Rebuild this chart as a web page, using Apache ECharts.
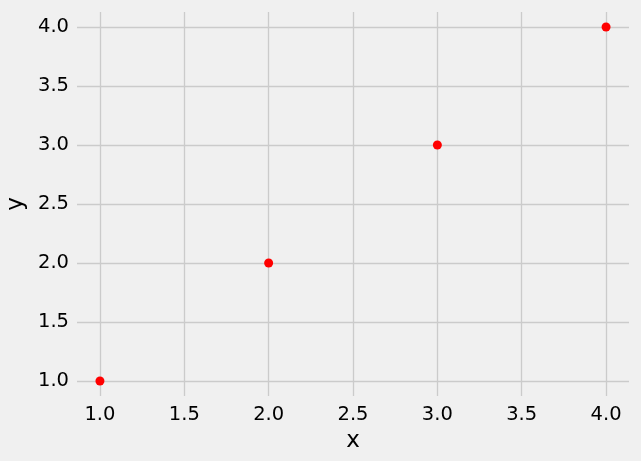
<!DOCTYPE html>
<html>
<head>
<meta charset="utf-8">
<script src="https://cdn.jsdelivr.net/npm/echarts@6/dist/echarts.min.js"></script>
<style>
html,body{margin:0;padding:0;background:#f0f0f0;}
#c{width:641px;height:461px;}
</style>
</head>
<body>
<div id="c"></div>
<script>
const xValues = [1, 2, 3, 4];
const yValues = [1, 2, 3, 4];
const xTicks = [1.0, 1.5, 2.0, 2.5, 3.0, 3.5, 4.0];
const yTicks = [1.0, 1.5, 2.0, 2.5, 3.0, 3.5, 4.0];

const chart = echarts.init(document.getElementById('c'), null, {renderer: 'canvas'});
const font = 'DejaVu Sans';
chart.setOption({
  backgroundColor: '#f0f0f0',
  animation: false,
  grid: {left: 77, right: 12, top: 12, bottom: 65, containLabel: false, outerBoundsMode: 'none'},
  xAxis: {
    type: 'value', min: 0.864, max: 4.136,
    name: 'x', nameLocation: 'middle', nameGap: 31,
    nameTextStyle: {fontFamily: font, fontSize: 23, color: '#000'},
    axisLine: {show: false},
    axisTick: {show: false, customValues: xTicks},
    axisLabel: {customValues: xTicks, fontFamily: font, fontSize: 19.5, color: '#000', margin: 9,
      formatter: v => Number(v).toFixed(1)},
    splitLine: {show: true, lineStyle: {color: '#cbcbcb', width: 1.3}}
  },
  yAxis: {
    type: 'value', min: 0.873, max: 4.127,
    name: 'y', nameLocation: 'middle', nameGap: 36,
    nameTextStyle: {fontFamily: font, fontSize: 23, color: '#000'},
    axisLine: {show: false},
    axisTick: {show: false, customValues: yTicks},
    axisLabel: {customValues: yTicks, fontFamily: font, fontSize: 19.5, color: '#000', margin: 8,
      formatter: v => Number(v).toFixed(1)},
    splitLine: {show: true, lineStyle: {color: '#cbcbcb', width: 1.3}}
  },
  series: [{
    type: 'scatter',
    data: xValues.map((x, i) => [x, yValues[i]]),
    symbol: 'circle', symbolSize: 9,
    itemStyle: {color: '#ff0000', opacity: 1}
  }]
});
</script>
</body>
</html>
